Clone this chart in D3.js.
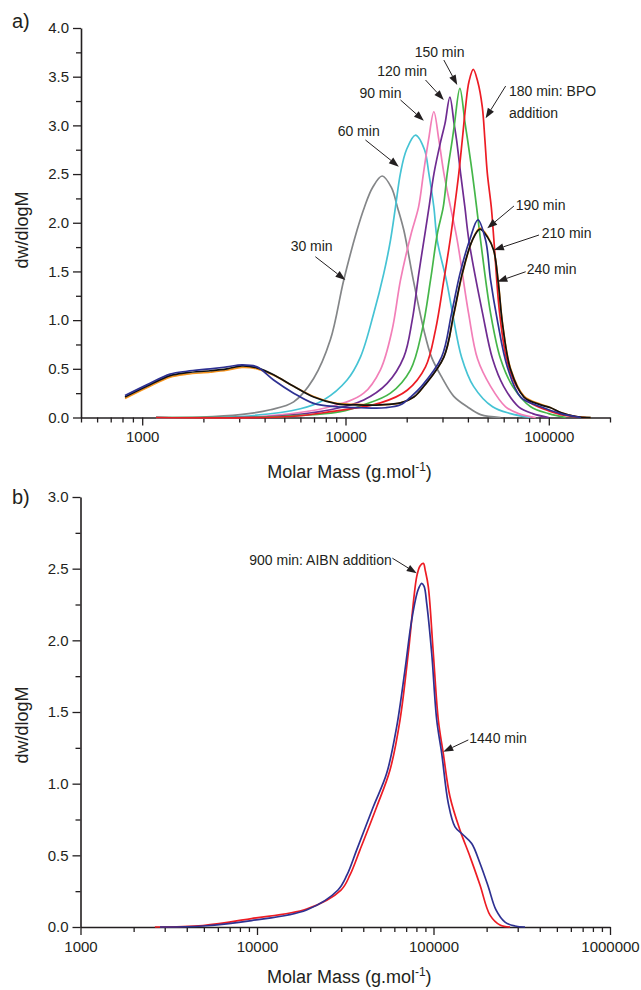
<!DOCTYPE html>
<html>
<head>
<meta charset="utf-8">
<script src="https://cdn.jsdelivr.net/npm/d3@7"></script>
<style>
  body { margin: 0; background: #fff; }
  svg text { font-family: "Liberation Sans", Arial, sans-serif; fill: #231f20; }
</style>
</head>
<body>
<svg width="641" height="990"></svg>
<script>
// ---- data: [molar mass, dw/dlogM] ----
// panel a)
const min30  = [[1170,0],[1930,0.005],[3040,0.03],[4270,0.08],[5560,0.16],[6970,0.40],[8430,0.80],[9800,1.41],[11400,1.925],[12390,2.16],[13570,2.36],[15150,2.48],[16830,2.36],[18010,2.16],[19350,1.925],[21610,1.40],[24280,0.90],[26490,0.62],[30010,0.40],[34010,0.22],[39720,0.11],[46180,0.03],[57940,0]];
const min60  = [[1170,0],[3040,0.01],[6000,0.09],[7810,0.18],[10180,0.385],[11840,0.62],[13770,1.07],[15430,1.48],[16640,1.82],[17610,2.16],[18640,2.51],[19950,2.75],[22100,2.90],[24470,2.75],[25690,2.51],[27200,2.16],[28270,1.82],[31410,1.40],[33620,1.07],[37230,0.62],[42660,0.32],[52910,0.11],[64920,0.04],[81440,0]];
const min90  = [[1170,0],[3810,0.01],[8430,0.11],[12290,0.25],[14850,0.49],[16960,0.90],[18640,1.41],[21110,1.90],[22870,2.16],[24190,2.51],[25610,2.85],[27200,3.14],[28790,2.85],[30460,2.51],[32860,2.16],[35450,1.82],[40310,1.07],[44640,0.60],[51730,0.32],[61340,0.11],[71060,0.04],[86210,0]];
const min120 = [[1170,0],[4270,0.01],[8430,0.08],[12290,0.18],[16030,0.35],[19350,0.62],[21290,1.0],[22940,1.48],[24750,1.925],[25750,2.16],[27260,2.51],[29500,2.85],[30870,3.02],[32610,3.29],[34200,3.02],[35180,2.85],[36810,2.51],[38660,2.16],[40450,1.82],[47240,1.07],[52910,0.60],[59960,0.32],[71060,0.11],[83320,0.04],[99880,0]];
const min150 = [[1170,0],[4780,0.01],[9440,0.06],[12290,0.13],[16640,0.25],[20880,0.49],[23840,0.90],[26190,1.41],[28360,1.90],[30250,2.16],[31660,2.51],[33510,2.85],[34390,3.02],[36520,3.38],[38750,3.02],[39860,2.85],[42040,2.51],[44140,2.16],[46180,1.82],[51730,1.07],[57940,0.60],[66400,0.32],[81440,0.11],[99880,0.04],[121100,0]];
const min180 = [[1170,0],[5350,0.01],[8430,0.06],[14850,0.15],[20110,0.28],[24750,0.52],[27720,0.90],[30460,1.41],[32860,1.85],[34390,2.16],[36100,2.51],[37530,2.85],[38960,3.19],[40500,3.45],[42510,3.575],[44700,3.45],[47080,3.19],[48500,2.85],[49830,2.51],[52140,2.16],[53700,1.82],[57290,1.07],[62030,0.60],[69490,0.32],[81440,0.15],[96540,0.08],[114450,0.03],[152000,0]];
const min190 = [[823,0.225],[1053,0.335],[1372,0.445],[1659,0.475],[2160,0.50],[2610,0.52],[3095,0.54],[3668,0.52],[4429,0.385],[5557,0.25],[6970,0.145],[9091,0.11],[11840,0.10],[15720,0.10],[18640,0.13],[20880,0.21],[23650,0.32],[29680,0.62],[33250,1.07],[36600,1.48],[40760,1.82],[44800,2.03],[48890,1.82],[51730,1.41],[55820,1.0],[62520,0.52],[72700,0.21],[91220,0.11],[114450,0.04],[143600,0]];
const min210 = [[823,0.21],[1053,0.32],[1372,0.43],[1659,0.46],[2160,0.48],[2610,0.50],[3095,0.53],[3668,0.51],[4429,0.44],[5557,0.32],[6970,0.21],[9091,0.14],[11400,0.13],[14850,0.13],[18640,0.15],[21680,0.21],[24280,0.32],[30460,0.62],[34120,1.07],[37530,1.48],[42040,1.82],[45830,1.935],[50000,1.85],[53530,1.72],[56320,1.40],[59280,0.95],[64920,0.49],[75470,0.21],[91220,0.13],[102200,0.10],[114450,0.05],[135700,0.01],[160800,0]];
const min240 = [[823,0.195],[1053,0.305],[1372,0.415],[1659,0.445],[2160,0.465],[2610,0.485],[3095,0.515],[3668,0.50],[4429,0.435],[5557,0.32],[6970,0.215],[9091,0.145],[11400,0.135],[14850,0.13],[18640,0.15],[21680,0.21],[24280,0.32],[30460,0.62],[34120,1.06],[37530,1.47],[42040,1.82],[45830,1.945],[50000,1.86],[53530,1.72],[56320,1.41],[59280,0.96],[64920,0.50],[75470,0.22],[91220,0.135],[102200,0.10],[114450,0.05],[135700,0.01],[160800,0]];
// panel b)
const min900  = [[2640,0],[4940,0.0105],[9310,0.059],[19100,0.126],[29920,0.258],[33640,0.363],[38330,0.538],[47680,0.839],[56690,1.095],[64600,1.444],[71960,1.910],[80330,2.444],[83870,2.519],[87560,2.537],[90000,2.482],[93440,2.374],[99750,1.910],[106500,1.444],[113600,1.212],[124000,0.909],[141300,0.676],[161000,0.491],[183400,0.293],[209000,0.083],[238200,0.014],[271300,0]];
const min1440 = [[2820,0],[4940,0.007],[9310,0.045],[19100,0.119],[28770,0.258],[32350,0.363],[36720,0.538],[45590,0.839],[54290,1.072],[61880,1.398],[68920,1.793],[75230,2.141],[81710,2.351],[85750,2.398],[88500,2.376],[91520,2.258],[97680,1.910],[104300,1.444],[111300,1.212],[121300,0.863],[132400,0.699],[147500,0.642],[164600,0.583],[183400,0.445],[204400,0.281],[226000,0.119],[254200,0.034],[289600,0.007],[330000,0]];

// axis ticks
const massTicksA = [1000, 10000, 100000];
const massTicksB = [1000, 10000, 100000, 1000000];
const dwTicksA = [0, 0.5, 1.0, 1.5, 2.0, 2.5, 3.0, 3.5, 4.0];
const dwTicksB = [0, 0.5, 1.0, 1.5, 2.0, 2.5, 3.0];

// annotations: label lines, text point and arrow [from, tip] in data units
const notesA = [
  { text: ["30 min"], at: [6815, 1.705], anchor: "middle", from: [7107, 1.651], tip: [9988, 1.412] },
  { text: ["60 min"], at: [11610, 2.886], anchor: "middle", from: [12530, 2.850], tip: [18290, 2.576] },
  { text: ["90 min"], at: [14850, 3.286], anchor: "middle", from: [18640, 3.261], tip: [24280, 3.048] },
  { text: ["120 min"], at: [19000, 3.502], anchor: "middle", from: [24750, 3.466], tip: [30460, 3.261] },
  { text: ["150 min"], at: [29010, 3.707], anchor: "middle", from: [30460, 3.671], tip: [35450, 3.415] },
  { text: ["180 min: BPO", "addition"], at: [63680, 3.297], anchor: "start", from: [61340, 3.404], tip: [48890, 3.073] },
  { text: ["190 min"], at: [68680, 2.131], anchor: "start", from: [67380, 2.172], tip: [49830, 1.943] },
  { text: ["210 min"], at: [92260, 1.843], anchor: "start", from: [89470, 1.874], tip: [53700, 1.720] },
  { text: ["240 min"], at: [77840, 1.474], anchor: "start", from: [76960, 1.497], tip: [55820, 1.395] }
];
const notesB = [
  { text: ["900 min: AIBN addition"], at: [57970, 2.526], anchor: "end", from: [58500, 2.573], tip: [80330, 2.468] },
  { text: ["1440 min"], at: [159500, 1.284], anchor: "start", from: [157500, 1.305], tip: [113600, 1.223] }
];

const seriesA = [
  { data: min30, color: "#848688" },
  { data: min60, color: "#45c3d4" },
  { data: min90, color: "#f27fb8" },
  { data: min120, color: "#6f2c91" },
  { data: min150, color: "#45b649" },
  { data: min180, color: "#ed1c24" },
  { data: min240, color: "#f7941d" },
  { data: min210, color: "#111111" },
  { data: min190, color: "#2e3192" }
];
const seriesB = [
  { data: min900, color: "#ed1c24" },
  { data: min1440, color: "#2e3192" }
];

const svg = d3.select("svg");

function drawPanel(o) {
  const x = d3.scaleLog().domain(o.xDomain).range(o.xRange);
  const y = d3.scaleLinear().domain(o.yDomain).range(o.yRange);
  const g = svg.append("g");
  const y0 = o.yRange[0], x0 = o.xRange[0];

  // minor ticks
  const xMinor = x.ticks().filter(t => !o.xTicks.includes(t));
  g.append("g").attr("transform", `translate(0,${y0})`)
    .call(d3.axisBottom(x).tickValues(xMinor).tickFormat("").tickSize(5).tickSizeOuter(0))
    .call(a => a.select(".domain").remove());
  const yMinor = d3.range(0.25, o.yDomain[1], 0.5);
  g.append("g").attr("transform", `translate(${x0},0)`)
    .call(d3.axisLeft(y).tickValues(yMinor).tickFormat("").tickSize(5).tickSizeOuter(0))
    .call(a => a.select(".domain").remove());

  // major axes
  const xa = g.append("g").attr("transform", `translate(0,${y0})`)
    .call(d3.axisBottom(x).tickValues(o.xTicks).tickFormat(d3.format("d")).tickSize(8).tickSizeOuter(0).tickPadding(6));
  const ya = g.append("g").attr("transform", `translate(${x0},0)`)
    .call(d3.axisLeft(y).tickValues(o.yTicks).tickFormat(d3.format(".1f")).tickSize(8).tickSizeOuter(0).tickPadding(4));
  [xa, ya].forEach(a => {
    a.selectAll("text").attr("font-size", 15).style("font-family", "Liberation Sans, Arial, sans-serif");
    a.select(".domain").attr("stroke", "#231f20").attr("stroke-width", 1.6);
  });
  g.selectAll(".tick line").attr("stroke", "#231f20").attr("stroke-width", 1.3);

  // curves
  const line = d3.line().x(d => x(d[0])).y(d => y(d[1])).curve(d3.curveCatmullRom.alpha(0.5));
  g.append("g").selectAll("path").data(o.series).join("path")
    .attr("d", d => line(d.data))
    .attr("fill", "none")
    .attr("stroke", d => d.color)
    .attr("stroke-width", 1.7);

  // annotations with arrows
  const ng = g.append("g");
  o.notes.forEach(n => {
    const fx = x(n.from[0]), fy = y(n.from[1]);
    const tx = x(n.tip[0]), ty = y(n.tip[1]);
    const ang = Math.atan2(ty - fy, tx - fx);
    const L = 10, W = 3.6;
    const bx = tx - L * Math.cos(ang), by = ty - L * Math.sin(ang);
    ng.append("line").attr("x1", fx).attr("y1", fy).attr("x2", bx).attr("y2", by)
      .attr("stroke", "#231f20").attr("stroke-width", 1);
    ng.append("path")
      .attr("d", `M${tx},${ty}L${bx + W * Math.sin(ang)},${by - W * Math.cos(ang)}L${bx - W * Math.sin(ang)},${by + W * Math.cos(ang)}Z`)
      .attr("fill", "#231f20");
    const t = ng.append("text").attr("x", x(n.at[0])).attr("y", y(n.at[1]))
      .attr("text-anchor", n.anchor).attr("font-size", 14);
    n.text.forEach((s, i) => t.append("tspan").attr("x", x(n.at[0])).attr("dy", i ? 21.5 : 0).text(s));
  });

  // titles
  const xt = g.append("text").attr("x", (o.xRange[0] + o.xRange[1]) / 2 + 4).attr("y", o.xTitleY)
    .attr("text-anchor", "middle").attr("font-size", 18);
  xt.append("tspan").text("Molar Mass (g.mol");
  xt.append("tspan").attr("dy", -7).attr("font-size", 12).text("-1");
  xt.append("tspan").attr("dy", 7).text(")");
  g.append("text").attr("transform", `translate(28,${o.yTitleY}) rotate(-90)`)
    .attr("text-anchor", "middle").attr("font-size", 18).text("dw/dlogM");
  g.append("text").attr("x", 12).attr("y", o.tagY).attr("font-size", 20).text(o.tag);
}

drawPanel({
  xDomain: [500, 200000], xRange: [81, 610],
  yDomain: [0, 4], yRange: [417.5, 28],
  xTicks: massTicksA, yTicks: dwTicksA,
  series: seriesA, notes: notesA,
  xTitleY: 478, yTitleY: 230, tag: "a)", tagY: 28
});

drawPanel({
  xDomain: [1000, 1000000], xRange: [80.5, 610],
  yDomain: [0, 3], yRange: [927, 497],
  xTicks: massTicksB, yTicks: dwTicksB,
  series: seriesB, notes: notesB,
  xTitleY: 983, yTitleY: 725, tag: "b)", tagY: 504
});
</script>
</body>
</html>
